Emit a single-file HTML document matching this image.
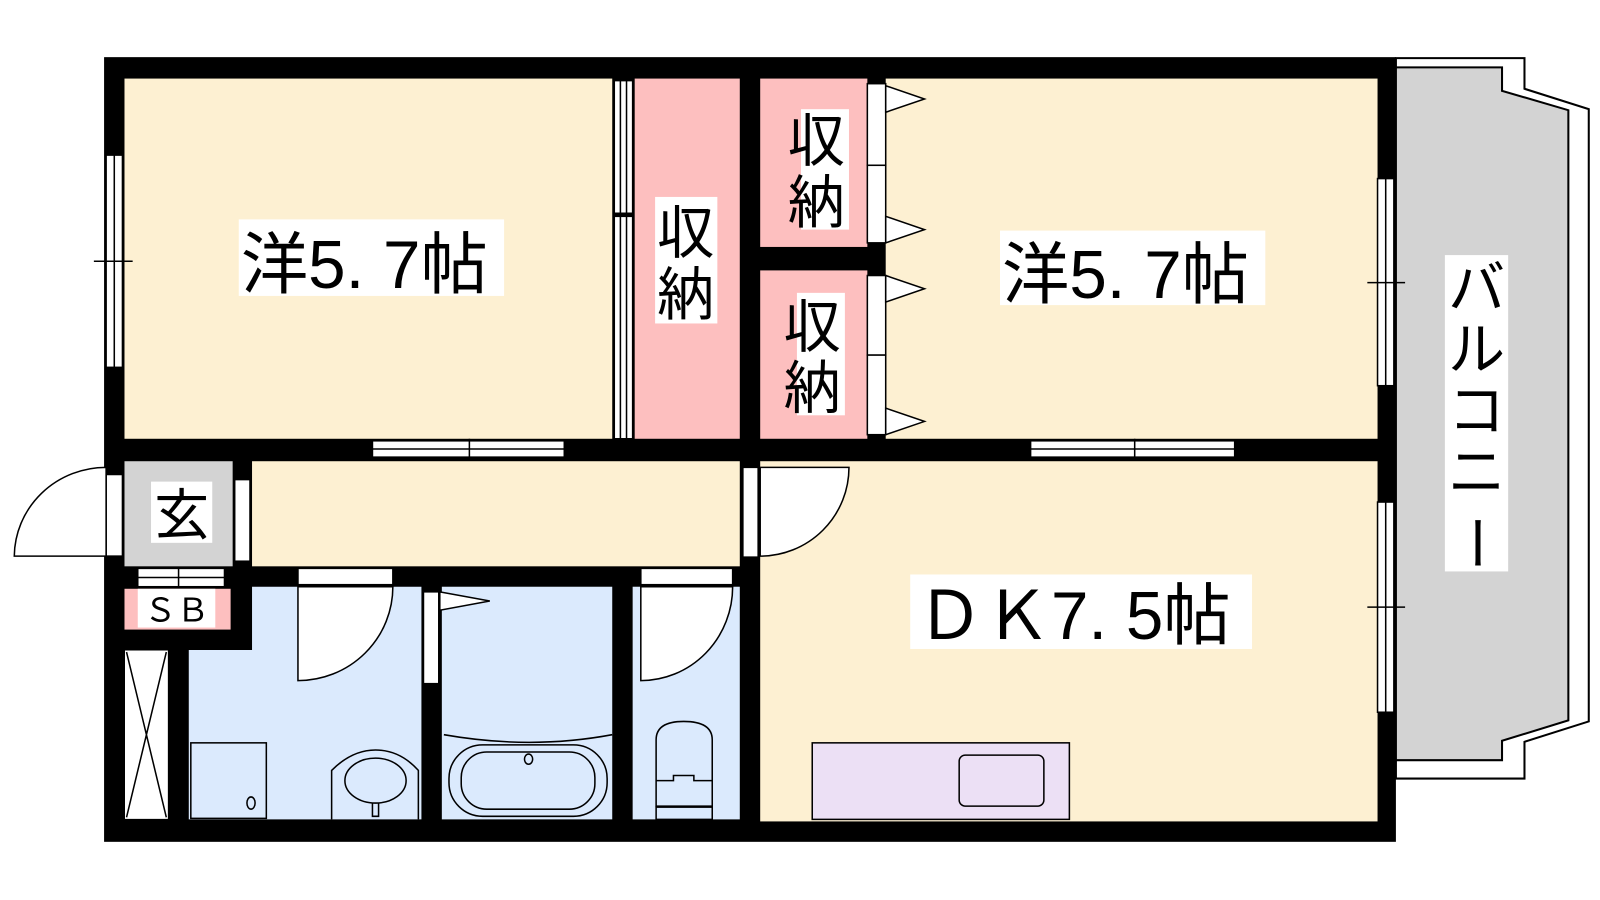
<!DOCTYPE html>
<html><head><meta charset="utf-8"><style>
body{margin:0;background:#fff;width:1600px;height:900px;overflow:hidden}
svg{display:block}
text{font-family:"Liberation Sans","Noto Sans CJK JP",sans-serif;fill:#000}
</style></head><body>
<svg width="1600" height="900" viewBox="0 0 1600 900" xmlns="http://www.w3.org/2000/svg">
<g transform="scale(1.0204)">
<!-- balcony -->
<path d="M1368 57 H1494 V87 L1557 107 V707 L1494 727 V763 H1368 Z" fill="#fff" stroke="#000" stroke-width="2"/>
<path d="M1368 66 H1472 V89 L1537 108 V706 L1472 726 V745 H1368 Z" fill="#d3d3d3" stroke="#000" stroke-width="2"/>
<!-- outer walls -->
<rect x="102" y="56" width="1266" height="769" fill="#000"/>
<!-- rooms -->
<rect x="122" y="77" width="478" height="353" fill="#fdf0d2"/>
<rect x="622" y="77" width="103" height="353" fill="#fdbfbf"/>
<rect x="745" y="77" width="105" height="165" fill="#fdbfbf"/>
<rect x="745" y="265" width="105" height="165" fill="#fdbfbf"/>
<rect x="868" y="77" width="482" height="353" fill="#fdf0d2"/>
<rect x="247" y="452" width="478" height="103" fill="#fdf0d2"/>
<rect x="122" y="452" width="106" height="103" fill="#d3d3d3"/>
<rect x="122" y="577" width="104" height="40" fill="#fdbfbf"/>
<rect x="122" y="637" width="43" height="166" fill="#fff" stroke="#000" stroke-width="1"/>
<path d="M124 639 L163 801 M163 639 L124 801" stroke="#000" stroke-width="1.5"/>
<path d="M185 637 H247 V575 H413 V803 H185 Z" fill="#dbeafd"/>
<rect x="433" y="575" width="167" height="228" fill="#dbeafd"/>
<rect x="620" y="575" width="105" height="228" fill="#dbeafd"/>
<rect x="745" y="452" width="605" height="353" fill="#fdf0d2"/>
<g fill="#fff" stroke="#000" stroke-width="1.5">
<rect x="602" y="79" width="18" height="130"/><rect x="602" y="212" width="18" height="218"/>
<line x1="608" y1="79" x2="608" y2="430"/><line x1="614" y1="79" x2="614" y2="430"/>
<rect x="850" y="82" width="18" height="80"/><rect x="850" y="162" width="18" height="76"/>
<rect x="850" y="270" width="18" height="78"/><rect x="850" y="348" width="18" height="78"/>
<path d="M868 84 L906 97 L868 110 Z"/><path d="M868 212 L906 225 L868 238 Z"/>
<path d="M868 270 L906 283 L868 296 Z"/><path d="M868 400 L906 413 L868 426 Z"/>
<rect x="104" y="152" width="16" height="208"/><line x1="112" y1="152" x2="112" y2="360"/>
<rect x="365" y="432" width="188" height="16"/><line x1="365" y1="440" x2="553" y2="440"/>
<rect x="1010" y="432" width="200" height="16"/><line x1="1010" y1="440" x2="1210" y2="440"/>
<rect x="1350" y="175" width="16" height="203"/><line x1="1358" y1="175" x2="1358" y2="378"/>
<rect x="1350" y="492" width="16" height="206"/><line x1="1358" y1="492" x2="1358" y2="698"/>
<rect x="135" y="557" width="85" height="18"/><line x1="135" y1="566" x2="220" y2="566"/>
<rect x="104" y="465" width="16" height="80"/>
<rect x="230" y="470" width="15" height="80"/>
<rect x="728" y="458" width="15" height="88"/>
<rect x="292" y="557" width="93" height="16"/>
<rect x="628" y="557" width="90" height="16"/>
<rect x="415" y="580" width="15" height="90"/>
<path d="M431 580 L480 589 L431 598 Z"/>
</g>
<g stroke="#000" stroke-width="1.5" fill="none">
<line x1="92" y1="256" x2="130" y2="256"/>
<line x1="460" y1="430" x2="460" y2="448"/><line x1="1112" y1="430" x2="1112" y2="448"/>
<line x1="1340" y1="277" x2="1377" y2="277"/><line x1="1340" y1="595" x2="1377" y2="595"/>
<line x1="175" y1="557" x2="175" y2="575"/>
</g>
<g fill="#fff" stroke="#000" stroke-width="1.5">
<path d="M104 458 A90 88 0 0 0 14 545 H104 Z"/>
<path d="M745 458 H832 A87 87 0 0 1 745 545 Z"/>
<path d="M292 575 H385 A93 92 0 0 1 292 667 Z"/>
<path d="M628 575 H718 A90 92 0 0 1 628 667 Z"/>
</g>
<g fill="none" stroke="#000" stroke-width="1.5">
<rect x="187" y="728" width="74" height="74"/><ellipse cx="246" cy="787" rx="4" ry="6"/>
<path d="M325 803 V755 Q345 735 368 735 Q392 735 410 755 V803"/>
<ellipse cx="368" cy="765" rx="30" ry="22"/>
<path d="M365 787 V800 H371 V787"/>
<path d="M435 720 Q520 735 600 720"/>
<rect x="440" y="730" width="155" height="70" rx="33"/>
<rect x="452" y="737" width="131" height="56" rx="25"/>
<ellipse cx="518" cy="744" rx="4" ry="5"/>
<path d="M643 790 V725 Q643 707 670 707 Q698 707 698 725 V790 Z"/>
<rect x="643" y="791" width="55" height="12"/>
<path d="M643 765 H660 V760 H680 V765 H698"/>
</g>
<rect x="796" y="728" width="252" height="75" fill="#ece0f5" stroke="#000" stroke-width="1.5"/>
<rect x="940" y="740" width="83" height="50" rx="6" fill="#ece0f5" stroke="#000" stroke-width="1.5"/>
<g fill="#fff">
<rect x="234" y="215" width="260" height="75"/>
<rect x="980" y="226" width="260" height="73"/>
<rect x="892" y="563" width="335" height="73"/>
<rect x="642" y="193" width="61" height="124"/>
<rect x="785" y="107" width="47" height="118"/>
<rect x="781" y="287" width="47" height="120"/>
<rect x="148" y="472" width="60" height="60"/>
<rect x="135" y="577" width="76" height="38"/>
<rect x="1416" y="250" width="62" height="310"/>
</g>
<text x="236" y="282" font-size="66">洋5. 7帖</text>
<text x="982" y="292" font-size="66">洋5. 7帖</text>
<text x="898" y="626" font-size="66">ＤＫ7. 5帖</text>
<text x="672" y="248" font-size="56" text-anchor="middle">収</text>
<text x="672" y="308" font-size="56" text-anchor="middle">納</text>
<text x="800" y="158" font-size="56" text-anchor="middle">収</text>
<text x="800" y="218" font-size="56" text-anchor="middle">納</text>
<text x="796" y="340" font-size="56" text-anchor="middle">収</text>
<text x="796" y="400" font-size="56" text-anchor="middle">納</text>
<text x="178" y="524" font-size="54" text-anchor="middle">玄</text>
<text x="173" y="609" font-size="32" text-anchor="middle">ＳＢ</text>
<g font-size="56" text-anchor="middle">
<text x="1447" y="302">バ</text><text x="1447" y="362">ル</text><text x="1447" y="422">コ</text><text x="1447" y="482">ニ</text><text x="1447" y="552" transform="rotate(90 1447 532)">ー</text>
</g>
</g>
</svg>
</body></html>
